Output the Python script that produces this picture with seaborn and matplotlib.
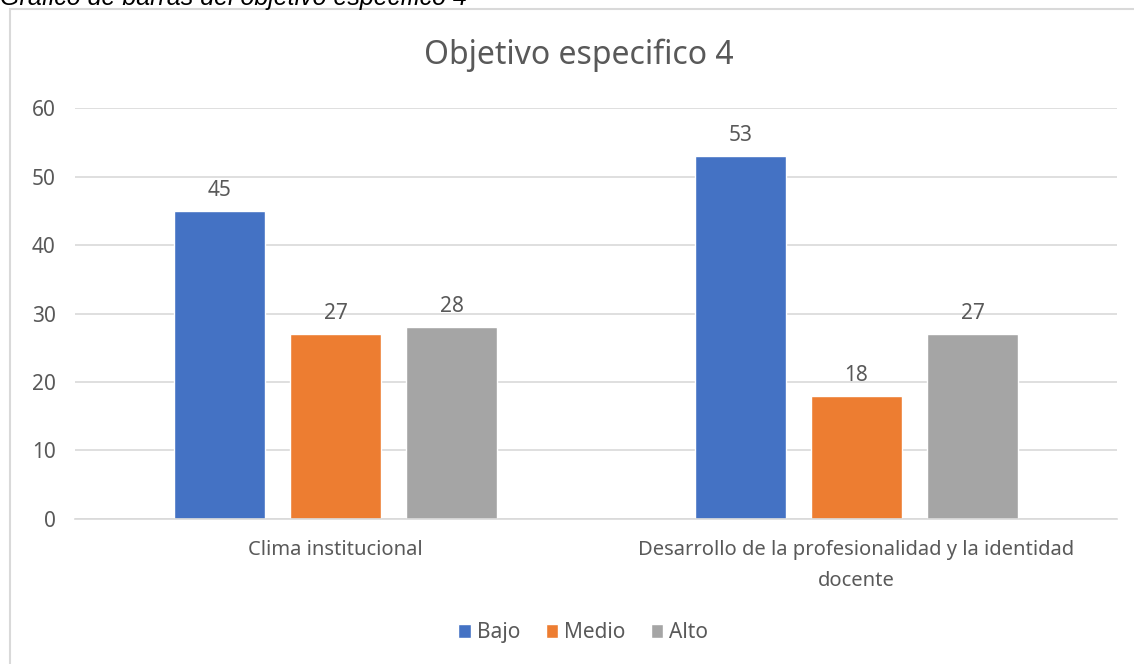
import pandas as pd
import seaborn as sns
import matplotlib.pyplot as plt
from matplotlib.patches import Rectangle

# datos del grafico
dimensiones = ["Clima institucional",
               "Desarrollo de la profesionalidad y la identidad\ndocente"]
niveles = ["Bajo", "Medio", "Alto"]
bajo = [45, 53]
medio = [27, 18]
alto = [28, 27]
colores = ["#4472C4", "#ED7D31", "#A5A5A5"]

df = pd.DataFrame({
    "Dimension": dimensiones * 3,
    "Nivel": [n for n in niveles for _ in dimensiones],
    "Valor": bajo + medio + alto,
})

sns.set_theme(style="white")
plt.rcParams["font.family"] = ["Noto Sans", "DejaVu Sans"]
gris = "#595959"

fig = plt.figure(figsize=(11.34, 6.64), dpi=100)
ax = fig.add_axes([0.0661, 0.2184, 0.9189, 0.6189])

sns.barplot(
    data=df, x="Dimension", y="Valor", hue="Nivel",
    hue_order=niveles, palette=colores,
    width=0.668, gap=0.215, saturation=1, ax=ax,
)

for cont in ax.containers:
    ax.bar_label(cont, padding=7, fontsize=15, color=gris)

ax.set_ylim(0, 60)
ax.set_xlim(-0.5, 1.5)
ax.set_yticks(range(0, 61, 10))
ax.yaxis.grid(True, color="#D9D9D9", linewidth=1.2)
ax.set_axisbelow(True)
for s in ["top", "right", "left"]:
    ax.spines[s].set_visible(False)
ax.spines["bottom"].set_color("#D9D9D9")
ax.spines["bottom"].set_linewidth(1.2)
ax.tick_params(axis="y", labelsize=15, labelcolor=gris, length=0, pad=14)
ax.tick_params(axis="x", labelsize=14.5, labelcolor=gris, length=0, pad=15)
for lab in ax.get_xticklabels():
    lab.set_linespacing(1.75)
ax.set_xlabel("")
ax.set_ylabel("")

ax.legend(
    loc="center", bbox_to_anchor=(0.488, -0.277), ncol=3, frameon=False,
    fontsize=15, labelcolor=gris, handlelength=0.6, handleheight=0.6,
    handletextpad=0.3, columnspacing=1.2,
)

fig.text(0.51, 0.917, "Objetivo especifico 4", ha="center", va="center",
         fontsize=23, color=gris)

# marco del grafico y titulo recortado arriba
fig.patches.append(Rectangle((10 / 1134, -0.01), 1.2, 1 - 9 / 664 + 0.01,
                             transform=fig.transFigure, fill=False,
                             edgecolor="#D9D9D9", linewidth=1.5))
fig.text(0.0, 1 - 5 / 664, "Gráfico de barras del objetivo específico 4",
         ha="left", va="baseline", fontsize=18, style="italic",
         family=["Liberation Sans", "DejaVu Sans"], color="black")

fig.savefig("out.png", dpi=100)
